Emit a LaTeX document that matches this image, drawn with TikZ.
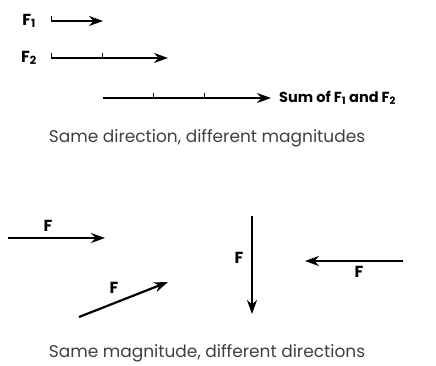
\documentclass[tikz,border=0pt]{standalone}
\usepackage{fontspec}
\setmainfont{Poppins}
\usetikzlibrary{arrows.meta}
\tikzset{
  force/.style={line width=2.2pt, -{Stealth[length=14pt, width=10pt, inset=4.5pt]}},
  tick/.style={line width=0.9pt},
  lab/.style={inner sep=1pt, font=\fontsize{16}{16}\selectfont\bfseries},
  sumlab/.style={inner sep=1pt, font=\fontsize{14.5}{15}\selectfont\bfseries},
  caption/.style={inner sep=0pt, text=black!75, font=\fontsize{17}{17}\selectfont}
}
\begin{document}
\begin{tikzpicture}[x=1pt, y=-1pt]
  \useasboundingbox (0,0) rectangle (436,365);

  % same direction, different magnitudes
  \coordinate (a1) at (51,21);
  \coordinate (b1) at (103,21);
  \coordinate (a2) at (51,58);
  \coordinate (m2) at (102,58);
  \coordinate (b2) at (168,58);
  \coordinate (s0) at (103,98);
  \coordinate (s1) at (153,98);
  \coordinate (s2) at (204,98);
  \coordinate (s3) at (271,98);

  \draw[force] (a1) -- (b1);
  \draw[force] (a2) -- (b2);
  \draw[force] (s0) -- (s3);

  % ticks marking unit lengths
  \draw[tick] (a1) -- ++(0,-5);
  \draw[tick] (a2) -- ++(0,-5);
  \draw[tick] (m2) -- ++(0,-5);
  \draw[tick] (s1) -- ++(0,-5);
  \draw[tick] (s2) -- ++(0,-5);

  % labels
  \node[lab] (f1) at (29,21) {F\textsubscript{1}};
  \node[lab] (f2) at (29,58) {F\textsubscript{2}};
  \node[sumlab, anchor=west] (sum) at (278,98) {Sum of F\textsubscript{1} and F\textsubscript{2}};
  \node[caption] (cap1) at (207,138) {Same direction, different magnitudes};

  % same magnitude, different directions
  \coordinate (r0) at (8,238);
  \coordinate (r1) at (105,238);
  \coordinate (d0) at (79,317);
  \coordinate (d1) at (168,282);
  \coordinate (v0) at (252,216);
  \coordinate (v1) at (252,314);
  \coordinate (l0) at (403,261);
  \coordinate (l1) at (305,261);

  \draw[force] (r0) -- (r1);
  \draw[force] (d0) -- (d1);
  \draw[force] (v0) -- (v1);
  \draw[force] (l0) -- (l1);

  % labels
  \node[lab] (fr) at (48,226) {F};
  \node[lab] (fd) at (114,288) {F};
  \node[lab] (fv) at (239,258) {F};
  \node[lab] (fl) at (359,272) {F};
  \node[caption] (cap2) at (207,353) {Same magnitude, different directions};
\end{tikzpicture}
\end{document}
